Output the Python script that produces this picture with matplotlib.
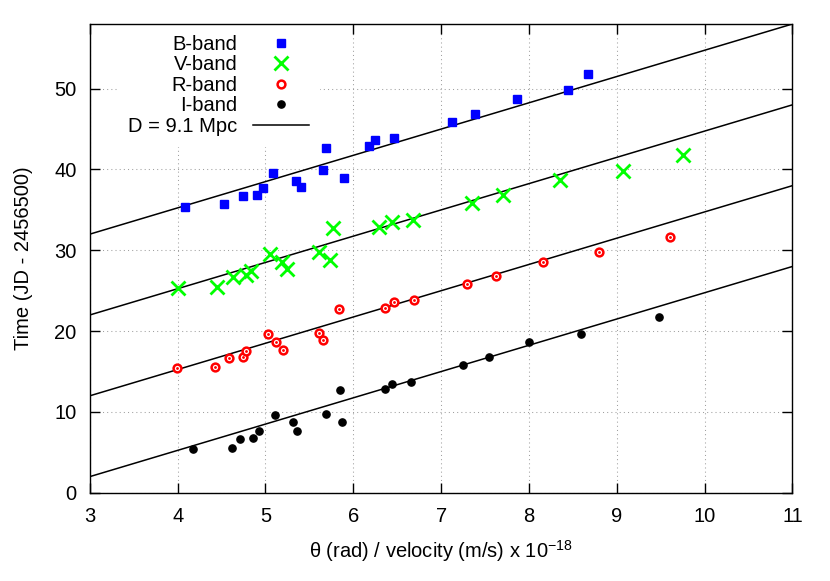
import numpy as np
import matplotlib.pyplot as plt

plt.rcParams['font.family'] = ['Liberation Sans', 'DejaVu Sans']
plt.rcParams['mathtext.fontset'] = 'custom'
plt.rcParams['mathtext.rm'] = 'Liberation Sans'

# data
b_x = [4.08, 4.53, 4.74, 4.90, 4.97, 5.09, 5.35, 5.41, 5.66, 5.69, 5.89, 6.18, 6.25, 6.46, 7.12, 7.39, 7.86, 8.44, 8.67]
b_y = [35.4, 35.7, 36.7, 36.9, 37.7, 39.6, 38.6, 37.8, 39.9, 42.7, 38.9, 42.9, 43.6, 43.9, 45.9, 46.9, 48.7, 49.8, 51.8]

v_x = [4.00, 4.45, 4.63, 4.78, 4.83, 5.05, 5.19, 5.25, 5.61, 5.73, 5.77, 6.29, 6.44, 6.68, 7.35, 7.71, 8.35, 9.07, 9.76]
v_y = [25.3, 25.5, 26.7, 26.9, 27.5, 29.6, 28.6, 27.7, 29.8, 28.8, 32.7, 32.9, 33.5, 33.7, 35.8, 36.8, 38.7, 39.8, 41.8]

r_x = [3.99, 4.43, 4.59, 4.74, 4.78, 5.03, 5.12, 5.20, 5.61, 5.66, 5.84, 6.36, 6.46, 6.69, 7.30, 7.62, 8.16, 8.80, 9.61]
r_y = [15.4, 15.6, 16.7, 16.8, 17.6, 19.6, 18.7, 17.7, 19.8, 18.9, 22.7, 22.9, 23.6, 23.8, 25.8, 26.8, 28.6, 29.8, 31.7]

i_x = [4.17, 4.62, 4.71, 4.86, 4.93, 5.11, 5.31, 5.36, 5.69, 5.85, 5.87, 6.36, 6.44, 6.66, 7.25, 7.54, 8.00, 8.59, 9.48]
i_y = [5.4, 5.6, 6.6, 6.8, 7.6, 9.6, 8.7, 7.7, 9.8, 12.7, 8.8, 12.8, 13.5, 13.7, 15.8, 16.8, 18.6, 19.7, 21.8]

# D = 9.1 Mpc lines: same slope, value at x=3 for each band
fit_slope = 3.25
fit_start = [32, 22, 12, 2]
fit_x = np.array([3.0, 11.0])

fs = 14.5

fig = plt.figure(figsize=(8.3, 5.81), dpi=100)
ax = fig.add_axes([89.8/830, 88.2/581, 702.6/830, 468.8/581])

for k, y0 in enumerate(fit_start):
    ax.plot(fit_x, y0 + fit_slope*(fit_x - fit_x[0]), color='black', lw=1.1,
            label='D = 9.1 Mpc' if k == 0 else None, zorder=2)

ax.plot(b_x, b_y, 's', color='#0000ff', ms=6, label='B-band', zorder=3)
ax.plot(v_x, v_y, 'x', color='#00ff00', ms=9.5, mew=2, label='V-band', zorder=3)
ax.plot(r_x, r_y, 'o', mfc='white', mec='#ff0000', mew=1.8, ms=5.6, label='R-band', zorder=3)
ax.plot(r_x, r_y, '.', color='#ff0000', ms=2, zorder=4)
ax.plot(i_x, i_y, 'o', color='black', ms=5.2, label='I-band', zorder=3)

ax.set_xlim(3, 11)
ax.set_ylim(0, 58)
ax.set_xticks(range(3, 12))
ax.set_yticks(range(0, 60, 10))
ax.grid(True, color='#a0a0a0', lw=0.75, ls=(0, (1, 3)))
ax.tick_params(direction='in', top=True, right=True, length=7, width=1, labelsize=fs)
ax.tick_params(axis='x', pad=10)
ax.tick_params(axis='y', pad=9.5)
for s in ax.spines.values():
    s.set_linewidth(1.0)
    s.set_zorder(6)

ax.set_xlabel(r'θ (rad) / velocity (m/s) x 10$^{\mathregular{-18}}$', fontsize=fs, labelpad=9)
ax.set_ylabel('Time (JD - 2456500)', fontsize=fs, labelpad=15)

h, l = ax.get_legend_handles_labels()
order = [1, 2, 3, 4, 0]
leg = ax.legend([h[i] for i in order], [l[i] for i in order], loc='upper right',
                bbox_to_anchor=((320 - 89.8)/702.6, 1.0), borderaxespad=0, borderpad=0.55,
                markerfirst=False, handlelength=2.8, handletextpad=0.75, labelspacing=0.07,
                fontsize=fs, frameon=True, fancybox=False, edgecolor='none',
                facecolor='white', framealpha=1, numpoints=1)

fig.savefig('out.png', dpi=100)
